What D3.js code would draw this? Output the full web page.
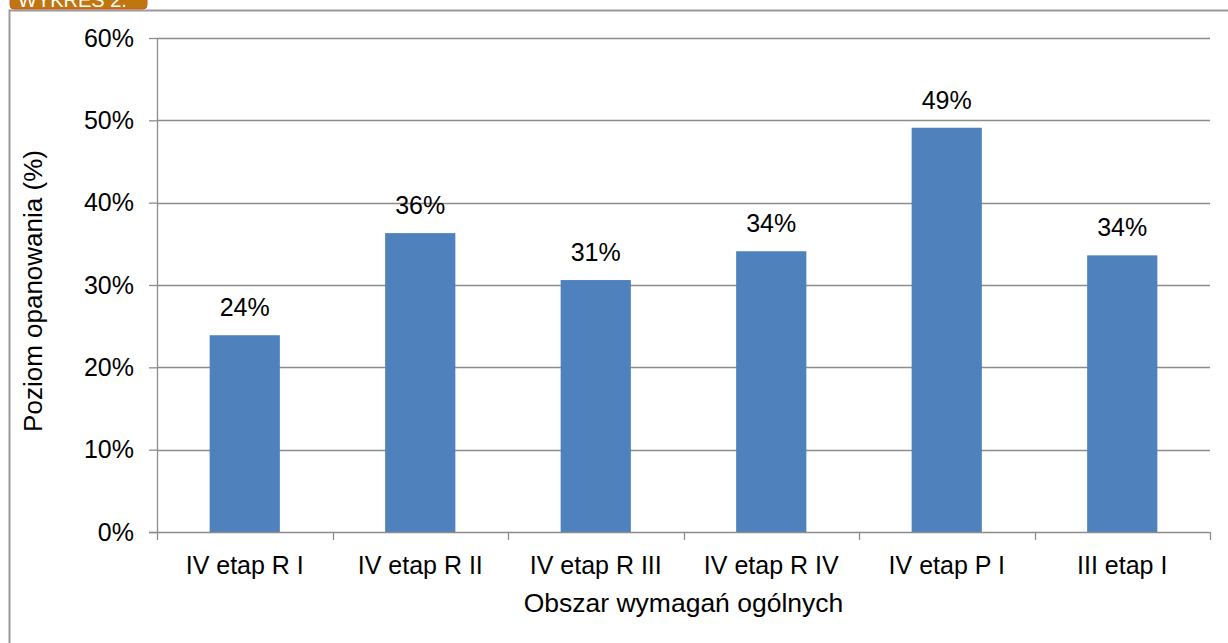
<!DOCTYPE html>
<html>
<head>
<meta charset="utf-8">
<script src="https://cdn.jsdelivr.net/npm/d3@7"></script>
<style>
  body { margin: 0; background: #fff; }
  text { font-family: Arial, "Liberation Sans", sans-serif; }
</style>
</head>
<body>
<div id="chart"></div>
<script>
// Data
const categories = ["IV etap R I", "IV etap R II", "IV etap R III", "IV etap R IV", "IV etap P I", "III etap I"];
const values = [23.9, 36.3, 30.6, 34.1, 49.1, 33.6];
const labels = ["24%", "36%", "31%", "34%", "49%", "34%"];
const yTicks = [0, 10, 20, 30, 40, 50, 60];

const W = 1228, H = 643;
const margin = { top: 38, right: 18, bottom: 111, left: 157 },
    width = W - margin.left - margin.right,
    height = H - margin.top - margin.bottom;
const fs = 25;

const root = d3.select("#chart")
    .append("svg")
    .attr("width", W)
    .attr("height", H);

// Frame around the chart
root.append("path")
    .attr("d", `M9.5,${H} L9.5,10.5 L${W},10.5`)
    .attr("fill", "none")
    .attr("stroke", "#9a9a9a")
    .attr("stroke-width", 2);

// Orange label at top-left (clipped by the page edge, as in the original)
root.append("rect")
    .attr("x", 10).attr("y", -10)
    .attr("width", 137).attr("height", 19)
    .attr("rx", 4)
    .attr("fill", "#c0750e")
    .attr("stroke", "#c85a2a")
    .attr("stroke-width", 1);
root.append("text")
    .attr("x", 18).attr("y", 7)
    .attr("fill", "#fff")
    .attr("font-size", 20)
    .text("WYKRES 2.");

const svg = root.append("g")
    .attr("transform", `translate(${margin.left},${margin.top})`);

const x = d3.scaleBand()
    .domain(categories)
    .range([0, width])
    .paddingInner(0.6)
    .paddingOuter(0.3);

const y = d3.scaleLinear()
    .domain([0, 60])
    .range([height, 0]);

// Gridlines
svg.append("g")
    .selectAll("line")
    .data(yTicks.filter(d => d > 0))
    .enter().append("line")
    .attr("x1", 0)
    .attr("x2", width)
    .attr("y1", d => Math.round(y(d)) + 0.5)
    .attr("y2", d => Math.round(y(d)) + 0.5)
    .attr("stroke", "#8c8c8c")
    .attr("stroke-width", 1.3);

// Bars
svg.selectAll(".bar")
    .data(values)
    .enter().append("rect")
    .attr("class", "bar")
    .attr("x", (d, i) => x(categories[i]))
    .attr("y", d => y(d))
    .attr("width", x.bandwidth())
    .attr("height", d => height - y(d))
    .attr("fill", "#4f81bd");

// Value labels
svg.selectAll(".val")
    .data(values)
    .enter().append("text")
    .attr("class", "val")
    .attr("x", (d, i) => x(categories[i]) + x.bandwidth() / 2)
    .attr("y", d => y(d) - 19)
    .attr("text-anchor", "middle")
    .attr("font-size", fs)
    .attr("fill", "#000")
    .text((d, i) => labels[i]);

// Y axis
const yAxis = svg.append("g")
    .call(d3.axisLeft(y).tickValues(yTicks).tickFormat(d => d + "%").tickSize(8).tickPadding(15));
yAxis.select(".domain").attr("stroke", "#8c8c8c").attr("stroke-width", 1.3)
    .attr("d", `M0.5,0V${height}`);
yAxis.selectAll(".tick line").attr("stroke", "#8c8c8c").attr("stroke-width", 1.3);
yAxis.selectAll(".tick text").attr("font-size", fs).attr("fill", "#000")
    .attr("font-family", "Arial, 'Liberation Sans', sans-serif");

// X axis with ticks at category boundaries
const xAxis = svg.append("g")
    .attr("transform", `translate(0,${height})`);
xAxis.append("line")
    .attr("x1", -8).attr("x2", width)
    .attr("y1", 0.5).attr("y2", 0.5)
    .attr("stroke", "#8c8c8c").attr("stroke-width", 1.3);
const step = width / categories.length;
xAxis.selectAll(".xtick")
    .data(d3.range(categories.length + 1))
    .enter().append("line")
    .attr("class", "xtick")
    .attr("x1", d => Math.round(d * step) + 0.5)
    .attr("x2", d => Math.round(d * step) + 0.5)
    .attr("y1", 0).attr("y2", 8)
    .attr("stroke", "#8c8c8c").attr("stroke-width", 1.3);
xAxis.selectAll(".xlab")
    .data(categories)
    .enter().append("text")
    .attr("class", "xlab")
    .attr("x", d => x(d) + x.bandwidth() / 2)
    .attr("y", 42)
    .attr("text-anchor", "middle")
    .attr("font-size", fs)
    .attr("fill", "#000")
    .text(d => d);

// Axis titles
root.append("text")
    .attr("x", margin.left + width / 2)
    .attr("y", 612)
    .attr("text-anchor", "middle")
    .attr("font-size", 26.5)
    .attr("fill", "#000")
    .text("Obszar wymagań ogólnych");

root.append("text")
    .attr("transform", `translate(42,${margin.top + height / 2 + 6}) rotate(-90)`)
    .attr("text-anchor", "middle")
    .attr("font-size", 26)
    .attr("fill", "#000")
    .text("Poziom opanowania (%)");
</script>
</body>
</html>
